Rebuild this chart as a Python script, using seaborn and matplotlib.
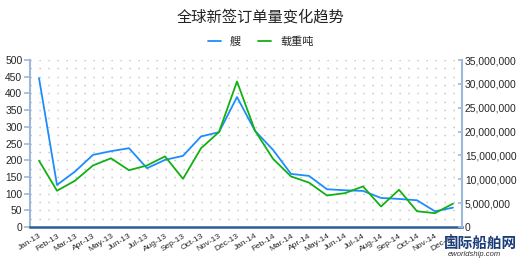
import matplotlib
matplotlib.use("Agg")
import matplotlib.pyplot as plt
import seaborn as sns
import pandas as pd
import numpy as np
from matplotlib.ticker import MultipleLocator, FuncFormatter

months = ["Jan-13", "Feb-13", "Mar-13", "Apr-13", "May-13", "Jun-13", "Jul-13", "Aug-13",
          "Sep-13", "Oct-13", "Nov-13", "Dec-13", "Jan-14", "Feb-14", "Mar-14", "Apr-14",
          "May-14", "Jun-14", "Jul-14", "Aug-14", "Sep-14", "Oct-14", "Nov-14", "Dec-14"]
ships = [446, 126, 166, 216, 227, 236, 176, 201, 213, 271, 284, 389,
         288, 231, 159, 153, 113, 110, 108, 87, 84, 80, 47, 58]
dwt = [13900000, 7600000, 9700000, 12900000, 14400000, 11900000, 12900000, 14800000,
       10100000, 16500000, 19900000, 30500000, 20200000, 14300000, 10600000, 9300000,
       6600000, 7100000, 8500000, 4300000, 7800000, 3300000, 2900000, 4900000]

title = "全球新签订单量变化趋势"
label_ships = "艘"
label_dwt = "载重吨"

sns.set_style("white")
plt.rcParams['font.family'] = ['Liberation Sans', 'Noto Sans CJK SC', 'DejaVu Sans']

df = pd.DataFrame({"pos": np.arange(len(months)), "ships": ships, "dwt": dwt})

fig = plt.figure(figsize=(5.21, 2.59), dpi=100)
ax = fig.add_axes([30/521, 32/259, 432/521, 167/259])
ax2 = ax.twinx()

blue = "#1E8CFF"
green = "#12B012"
sns.lineplot(data=df, x="pos", y="ships", ax=ax, color=blue, lw=1.3, label=label_ships, legend=False)
sns.lineplot(data=df, x="pos", y="dwt", ax=ax2, color=green, lw=1.3, label=label_dwt, legend=False)

ax.set_xlim(-0.5, len(months) - 0.5)
ax.set_ylim(0, 500)
ax2.set_ylim(0, 35000000)
ax.yaxis.set_major_locator(MultipleLocator(50))
ax2.yaxis.set_major_locator(MultipleLocator(5000000))
ax2.yaxis.set_major_formatter(FuncFormatter(lambda v, p: f"{int(v):,}"))

# dotted lattice grid: horizontal rows every 25, dots every half category (9 px = 6.48 pt)
for yv in np.arange(25, 501, 25):
    ax.axhline(yv, color="#B8B8B8", lw=1.0, ls=(0, (0.9, 5.58)), zorder=0)

ax.set_xticks(np.arange(len(months)))
ax.set_xticklabels(months, rotation=32, ha="right", rotation_mode="anchor", fontsize=6)
ax.tick_params(axis="x", length=0, pad=4)
ax.set_xticks(np.arange(-0.5, len(months), 1), minor=True)
ax.tick_params(axis="x", which="minor", length=5, width=1.5, color="#2F5C96", direction="out")

ax.tick_params(axis="y", labelsize=7.4, length=4, width=1.2, direction="out", color="#9DB9D9", pad=1.5)
ax2.tick_params(axis="y", labelsize=7.4, length=3, width=1.2, direction="in", color="#9DB9D9", pad=2)

for a in (ax, ax2):
    a.set_xlabel("")
    a.set_ylabel("")
    a.spines["top"].set_visible(False)
ax.spines["left"].set_color("#9DB9D9")
ax.spines["left"].set_linewidth(1.5)
ax2.spines["right"].set_color("#9DB9D9")
ax2.spines["right"].set_linewidth(1.5)
ax2.spines["left"].set_visible(False)
ax2.spines["bottom"].set_visible(False)
ax.spines["right"].set_visible(False)
ax.spines["bottom"].set_color("#2F5C96")
ax.spines["bottom"].set_linewidth(1.8)

fig.text(0.5, 1 - 17/259, title, ha="center", va="center", fontsize=11,
         family=['Noto Sans CJK SC', 'DejaVu Sans'], color="#222222")

h1, l1 = ax.get_legend_handles_labels()
h2, l2 = ax2.get_legend_handles_labels()
leg = fig.legend(h1 + h2, l1 + l2, loc="center", bbox_to_anchor=(0.5, 1 - 42/259), ncol=2,
                 frameon=False, handlelength=1.2, columnspacing=1.5,
                 handletextpad=0.8, prop={'family': ['Noto Sans CJK SC', 'DejaVu Sans'], 'size': 8})

fig.text(444/521, 1 - 243/259, "国际船舶网", ha="left", va="center", fontsize=10.5, fontweight="bold",
         color="#1A3C78", family=['Noto Sans CJK SC', 'DejaVu Sans'])
fig.text(448/521, 1 - 254/259, "eworldship.com", ha="left", va="center", fontsize=5.5,
         color="#333333", style="italic")

fig.savefig("out.png", dpi=100)
